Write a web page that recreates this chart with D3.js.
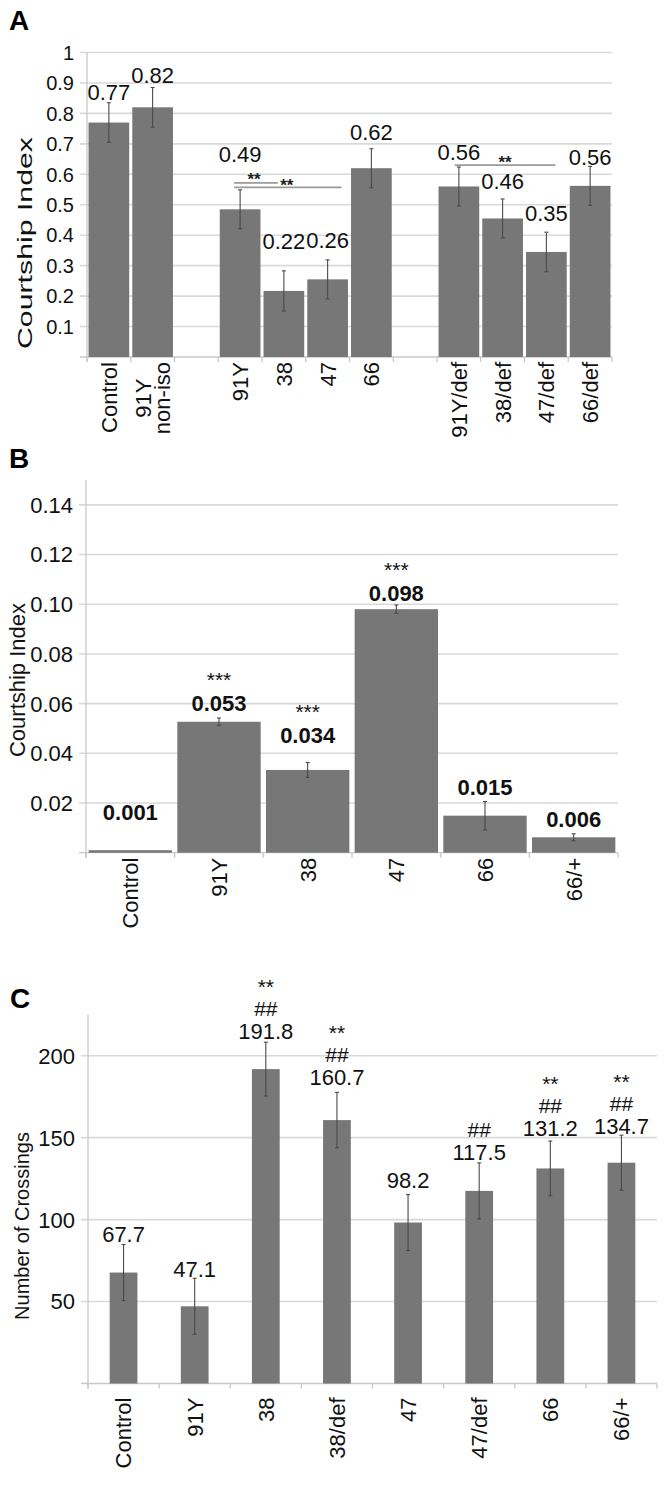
<!DOCTYPE html>
<html><head><meta charset="utf-8">
<script src="https://cdn.jsdelivr.net/npm/d3@7"></script>
<style>
html,body{margin:0;padding:0;background:#fff;}
svg{display:block;font-family:"Liberation Sans",Arial,sans-serif;}
</style></head>
<body>
<svg id="c" width="664" height="1495"></svg>
<script>
// ---------- Panel A data ----------
const catsA = ["Control","91Y\nnon-iso","_g1","91Y","38","47","66","_g2","91Y/def","38/def","47/def","66/def"];
const valsA = [0.77,0.82,null,0.485,0.217,0.255,0.62,null,0.56,0.455,0.345,0.562];
const errA  = [0.065,0.065,null,0.064,0.066,0.064,0.064,null,0.064,0.064,0.065,0.064];
const labelsA = ["0.77","0.82","","0.49","0.22","0.26","0.62","","0.56","0.46","0.35","0.56"];
const ticksA = [0.1,0.2,0.3,0.4,0.5,0.6,0.7,0.8,0.9,1];
const sigFromA = ["91Y","91Y","91Y/def"];
const sigToA   = ["38","47","47/def"];
const sigLevelA = [0.572,0.557,0.63];
const sigTextA = ["**","**","**"];
// ---------- Panel B data ----------
const catsB = ["Control","91Y","38","47","66","66/+"];
const valsB = [0.001,0.0527,0.0333,0.098,0.0149,0.0062];
const errB  = [0.0002,0.0015,0.003,0.0017,0.0057,0.0014];
const labelsB = ["0.001","0.053","0.034","0.098","0.015","0.006"];
const starsB = ["","***","***","***","",""];
const ticksB = [0.02,0.04,0.06,0.08,0.10,0.12,0.14];
// ---------- Panel C data ----------
const catsC = ["Control","91Y","38","38/def","47","47/def","66","66/+"];
const valsC = [67.7,47.1,191.8,160.7,98.2,117.5,131.2,134.7];
const errC  = [17.1,17.1,16.4,16.9,17.1,17.1,16.7,16.8];
const starsC = ["","","**","**","","","**","**"];
const hashC  = ["","","##","##","","##","##","##"];
const ticksC = [50,100,150,200];

// ---------- layout (pixels, not data) ----------
const liftA = [3,5,0,28,22,12,9,0,7,10,11,1];
const liftB = [30,7,20,4,7,7];
const liftC = [3,1,3,7,7,3,5,1];

const svg = d3.select("#c");
const BAR = "#777777", GRID = "#d9d9d9", AXIS = "#c8c8c8", ERR = "#4a4a4a", TXT = "#111";

function panel(o){
  const g = svg.append("g");
  const x = d3.scaleBand().domain(o.cats).range([o.x0,o.x1]).paddingInner(o.pin).paddingOuter(o.pout);
  const y = d3.scaleLinear().domain(o.ydom).range([o.yb,o.yt]);
  g.selectAll(".grid").data(o.ticks).join("line")
    .attr("x1",o.x0-7).attr("x2",o.x1).attr("y1",d=>y(d)).attr("y2",d=>y(d))
    .attr("stroke",GRID).attr("stroke-width",1.6);
  g.append("line").attr("x1",o.x0).attr("x2",o.x0).attr("y1",y(o.ydom[1])).attr("y2",y(0)+5).attr("stroke",AXIS).attr("stroke-width",1.3);
  g.append("line").attr("x1",o.x0-7).attr("x2",o.x1).attr("y1",y(0)).attr("y2",y(0)).attr("stroke",AXIS).attr("stroke-width",1.3);
  const bounds = d3.range(o.cats.length+1).map(i=>o.x0 + i*(o.x1-o.x0)/o.cats.length);
  g.selectAll(".xt").data(bounds).join("line")
    .attr("x1",d=>d).attr("x2",d=>d).attr("y1",y(0)).attr("y2",y(0)+5).attr("stroke",AXIS).attr("stroke-width",1.3);
  g.selectAll(".yl").data(o.ticks).join("text")
    .attr("x",o.x0-13).attr("y",d=>y(d)).attr("dy","0.36em").attr("text-anchor","end")
    .attr("font-size",o.tickFs).attr("fill",TXT).text(o.fmt);
  const idx = o.cats.map((c,i)=>i).filter(i=>o.vals[i]!=null);
  g.selectAll(".bar").data(idx).join("rect")
    .attr("x",i=>x(o.cats[i])).attr("width",x.bandwidth())
    .attr("y",i=>y(o.vals[i])).attr("height",i=>y(0)-y(o.vals[i]))
    .attr("fill",BAR);
  idx.forEach(i=>{
    const cx = x(o.cats[i])+x.bandwidth()/2;
    const t = y(o.vals[i]+o.errs[i]), b = y(Math.max(0,o.vals[i]-o.errs[i]));
    if (b - t < 1.5) return;
    g.append("line").attr("x1",cx).attr("x2",cx).attr("y1",t).attr("y2",b).attr("stroke",ERR).attr("stroke-width",1.1);
    g.append("line").attr("x1",cx-2).attr("x2",cx+2).attr("y1",t).attr("y2",t).attr("stroke",ERR).attr("stroke-width",1.1);
    g.append("line").attr("x1",cx-2).attr("x2",cx+2).attr("y1",b).attr("y2",b).attr("stroke",ERR).attr("stroke-width",1.1);
  });
  idx.forEach(i=>{
    const cx = x(o.cats[i])+x.bandwidth()/2;
    const base = y(o.vals[i]+o.errs[i]) - o.lift[i];
    g.append("text").attr("x",cx).attr("y",base).attr("text-anchor","middle")
      .attr("font-size",o.valFs).attr("font-weight",o.valBold?"bold":"normal").attr("fill",TXT).text(o.labels[i]);
    let yy = base;
    if (o.hash && o.hash[i]) {
      yy -= 23;
      g.append("text").attr("x",cx).attr("y",yy).attr("text-anchor","middle")
        .attr("font-size",21).attr("fill",TXT).text(o.hash[i]);
    }
    if (o.stars && o.stars[i]) {
      yy -= o.starGap;
      g.append("text").attr("x",cx).attr("y",yy).attr("text-anchor","middle")
        .attr("font-size",21).attr("fill",TXT).text(o.stars[i]);
    }
  });
  o.cats.forEach((c,i)=>{
    if (c.startsWith("_")) return;
    const cx = x(c)+x.bandwidth()/2;
    const lines = c.split("\n");
    const tg = g.append("g").attr("transform",`translate(${cx},${y(0)+o.xlabOff}) rotate(-90)`);
    const n = lines.length;
    const ts = lines.map((ln,k)=>tg.append("text").attr("font-size",o.xFs).attr("fill",TXT)
      .attr("y",(k-(n-1)/2)*o.xFs*0.85).attr("dy","0.36em").text(ln));
    const L = d3.max(ts,t=>t.node().getComputedTextLength());
    ts.forEach(t=>t.attr("x",-L/2).attr("text-anchor","middle"));
  });
  const tt = svg.append("text").attr("transform",`translate(${o.titleX},${o.titleY}) rotate(-90)`)
    .attr("text-anchor","middle").attr("dy","0.36em").attr("font-size",o.titleFs).attr("fill",TXT).text(o.title);
  if (o.titleLen) tt.attr("textLength",o.titleLen).attr("lengthAdjust","spacingAndGlyphs");
  svg.append("text").attr("x",o.letterX).attr("y",o.letterY).attr("font-size",28).attr("font-weight","bold").attr("fill","#000").text(o.letter);
  return {x,y,g};
}

const A = panel({cats:catsA, vals:valsA, errs:errA, labels:labelsA, lift:liftA, ticks:ticksA,
  fmt:d=>d===1?"1":d3.format(".1f")(d), x0:87, x1:612, pin:0.07, pout:0.035,
  ydom:[0,1], yb:357, yt:52.5, tickFs:20, valFs:22, valBold:false, xFs:22, xlabOff:5,
  title:"Courtship Index", titleX:24, titleY:243, titleFs:21, titleLen:212,
  letter:"A", letterX:9, letterY:30});

// significance brackets in A
const cA = c => A.x(c)+A.x.bandwidth()/2;
sigFromA.forEach((f,k)=>{
  const t = sigToA[k];
  const x1 = k===2 ? cA(f)-4 : cA(f)-6;
  const x2 = k===0 ? cA(t)-6 : (k===1 ? cA(t)+14 : cA(t)+9);
  const yy = A.y(sigLevelA[k]);
  A.g.append("line").attr("x1",x1).attr("x2",x2).attr("y1",yy).attr("y2",yy)
    .attr("stroke","#9a9a9a").attr("stroke-width",1.6);
  let sx;
  if (k===0) sx = (x1+x2)/2 - 2;
  else if (k===1) sx = cA(sigToA[0]) - 6 + 9;
  else sx = (x1+x2)/2;
  A.g.append("text").attr("x",sx).attr("y",yy+(k===1?3.3:2.5)).attr("text-anchor","middle")
    .attr("font-size",17).attr("font-weight","bold").attr("fill","#222").text(sigTextA[k]);
});

panel({cats:catsB, vals:valsB, errs:errB, labels:labelsB, lift:liftB, ticks:ticksB, stars:starsB, starGap:24,
  fmt:d3.format(".2f"), x0:86, x1:618, pin:0.06, pout:0.03,
  ydom:[0,0.15], yb:852.7, yt:480, tickFs:22, valFs:22, valBold:true, xFs:22, xlabOff:5,
  title:"Courtship Index", titleX:17, titleY:680, titleFs:22,
  letter:"B", letterX:9, letterY:468});

panel({cats:catsC, vals:valsC, errs:errC, labels:valsC.map(v=>v.toFixed(1)), lift:liftC, ticks:ticksC, stars:starsC, hash:hashC, starGap:22,
  fmt:d3.format("d"), x0:88, x1:657, pin:0.61, pout:0.305,
  ydom:[0,225], yb:1383.5, yt:1014.7, tickFs:22, valFs:22, valBold:false, xFs:22, xlabOff:14,
  title:"Number of Crossings", titleX:22, titleY:1226, titleFs:20,
  letter:"C", letterX:10, letterY:1008});
</script>
</body></html>
